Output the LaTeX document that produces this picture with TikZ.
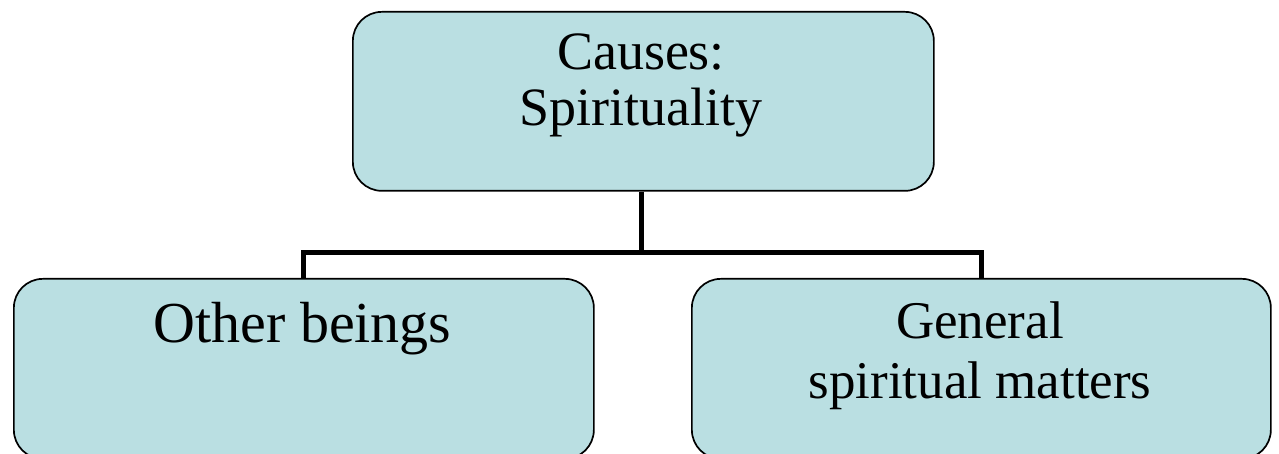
\documentclass[tikz,border=0pt]{standalone}
\usepackage{fontspec}
\setmainfont{Liberation Serif}
\usetikzlibrary{backgrounds}
\definecolor{boxfill}{RGB}{186,223,226}
\tikzset{
  box/.style={draw=black, line width=1.7pt, fill=boxfill, rounded corners=29pt,
    rectangle, inner sep=0pt, anchor=north west},
  conn/.style={draw=black, line width=5pt, line join=miter},
  txt/.style={anchor=base, inner sep=0pt, text=black},
}
\begin{document}
\begin{tikzpicture}[x=1pt, y=-1pt]
\useasboundingbox (0,0) rectangle (1279,454);

% boxes
\node[box, minimum width=581pt, minimum height=179pt] (top) at (352,11) {};
\node[box, minimum width=580pt, minimum height=180pt] (left) at (13,278) {};
\node[box, minimum width=579pt, minimum height=180pt] (right) at (691,278) {};

% labels
\node[txt, font=\fontsize{54}{57}\selectfont] (topA) at (641,70) {Causes:};
\node[txt, font=\fontsize{54}{57}\selectfont] (topB) at (641,126) {Spirituality};
\node[txt, font=\fontsize{58}{60}\selectfont] (leftA) at (302.5,342) {Other beings};
\node[txt, font=\fontsize{53}{57}\selectfont] (rightA) at (980,338) {General};
\node[txt, font=\fontsize{53}{57}\selectfont] (rightB) at (980,398) {spiritual matters};

% connectors
\coordinate (joint) at (641.5,253);
\begin{scope}[on background layer]
  \draw[conn] (top.south -| joint) -- (joint);
  \draw[conn] (left.north) |- (joint) -| (right.north);
\end{scope}
\end{tikzpicture}
\end{document}
